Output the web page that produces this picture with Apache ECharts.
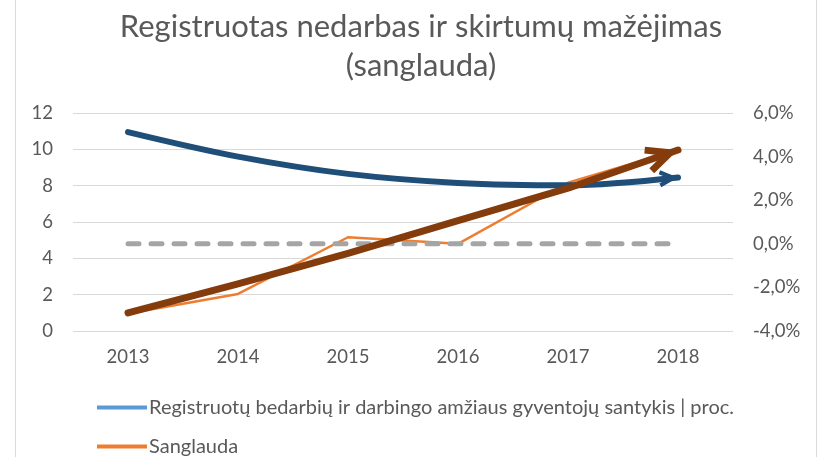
<!DOCTYPE html>
<html><head><meta charset="utf-8">
<script src="https://cdn.jsdelivr.net/npm/echarts@6/dist/echarts.min.js"></script>
<style>html,body{margin:0;padding:0;background:#fff}#c{width:820px;height:457px}</style>
</head><body><div id="c"></div>
<script>
// ---- data ----
const categories = ['2013', '2014', '2015', '2016', '2017', '2018'];
const registeredRatio = [10.9, 9.6, 8.65, 8.15, 8.0, 8.45];      // left axis
const registeredTrend = [10.95, 9.6, 8.65, 8.15, 8.02, 8.45];    // left axis, smooth trend
const convergence = [-3.2, -2.3, 0.3, 0.0, 2.8, 4.3];             // right axis, %
const convergenceTrend = [-3.17, -1.84, -0.44, 1.06, 2.55, 4.3];  // right axis, %
const zeroLine = [0, 0, 0, 0, 0, 0];                              // right axis, %
const leftTicks = { min: 0, max: 12, interval: 2 };
const rightTicks = { min: -4, max: 6, interval: 2 };
const seriesNames = ['Registruotų bedarbių ir darbingo amžiaus gyventojų santykis | proc.', 'Sanglauda'];
const titleText = 'Registruotas nedarbas ir skirtumų mažėjimas\n(sanglauda)';

const FONT = 'Lato';
const TXT = '#595959';
const ARROW = 'path://M131,0 L262,281 L203,308 L131,154 L59,308 L0,281 Z';
const NAVY_SIZE = [17, 19];
const BROWN_SIZE = [28, 33];

const chart = echarts.init(document.getElementById('c'), null, { renderer: 'canvas' });

function trendData(values, arrow) {
  return values.map((v, i) => i < values.length - 1 ? { value: v, symbol: 'none' } :
    Object.assign({ value: v, symbol: ARROW }, arrow || {}));
}

function buildOption(navyArrow, brownArrow) {
  return {
    animation: false,
    backgroundColor: '#fff',
    textStyle: { fontFamily: FONT },
    title: {
      text: titleText, left: 416, top: 2, textAlign: 'center',
      textStyle: { fontFamily: FONT, fontSize: 31, fontWeight: 'normal', color: TXT, lineHeight: 39 }
    },
    grid: { left: 73, right: 87, top: 113, bottom: 126, containLabel: false },
    legend: {
      orient: 'vertical', left: 97, top: 397.5, itemGap: 19, padding: 0,
      itemWidth: 50, itemHeight: 4, icon: 'rect',
      data: seriesNames,
      textStyle: { fontFamily: FONT, fontSize: 20, color: TXT, lineHeight: 20, padding: [0, 0, 0, -3] }
    },
    xAxis: {
      type: 'category', data: categories, boundaryGap: true,
      axisLine: { show: false }, axisTick: { show: false },
      axisLabel: { margin: 17, fontFamily: FONT, fontSize: 18.5, color: TXT }
    },
    yAxis: [
      {
        type: 'value', min: leftTicks.min, max: leftTicks.max, interval: leftTicks.interval,
        axisLine: { show: false }, axisTick: { show: false },
        splitLine: { lineStyle: { color: '#D9D9D9', width: 1 } },
        axisLabel: { margin: 20, fontFamily: FONT, fontSize: 18.5, color: TXT }
      },
      {
        type: 'value', min: rightTicks.min, max: rightTicks.max, interval: rightTicks.interval,
        axisLine: { show: false }, axisTick: { show: false }, splitLine: { show: false },
        axisLabel: {
          margin: 20, fontFamily: FONT, fontSize: 18.5, color: TXT,
          formatter: v => v.toFixed(1).replace('.', ',') + '%'
        }
      }
    ],
    series: [
      {
        name: seriesNames[0], type: 'line', yAxisIndex: 0, data: registeredRatio,
        symbol: 'none', lineStyle: { color: '#5B9BD5', width: 2.5, cap: 'round' },
        itemStyle: { color: '#5B9BD5' }
      },
      {
        name: seriesNames[1], type: 'line', yAxisIndex: 1, data: convergence,
        symbol: 'none', lineStyle: { color: '#ED7D31', width: 2.5, cap: 'round', join: 'round' },
        itemStyle: { color: '#ED7D31' }
      },
      {
        name: 'zero', type: 'line', yAxisIndex: 1, data: zeroLine, symbol: 'none',
        lineStyle: { color: '#A5A5A5', width: 5, type: [11, 12], cap: 'round' }
      },
      {
        name: 'trend1', type: 'line', yAxisIndex: 0, smooth: 0.35,
        data: trendData(registeredTrend, navyArrow),
        symbol: ARROW, symbolSize: NAVY_SIZE,
        itemStyle: { color: '#1F4E79', borderWidth: 0 },
        lineStyle: { color: '#1F4E79', width: 6, cap: 'round' }
      },
      {
        name: 'trend2', type: 'line', yAxisIndex: 1,
        data: trendData(convergenceTrend, brownArrow),
        symbol: ARROW, symbolSize: BROWN_SIZE,
        itemStyle: { color: '#843C0C', borderWidth: 0 },
        lineStyle: { color: '#843C0C', width: 7, cap: 'round', join: 'round' }
      }
    ],
    graphic: [
      { type: 'line', shape: { x1: 15.5, y1: 0, x2: 15.5, y2: 457 }, style: { stroke: '#D9D9D9', lineWidth: 1 }, silent: true },
      { type: 'line', shape: { x1: 816.5, y1: 0, x2: 816.5, y2: 457 }, style: { stroke: '#D9D9D9', lineWidth: 1 }, silent: true }
    ]
  };
}

chart.setOption(buildOption(null, null));

function arrowFor(values, yAxisIndex, size) {
  const n = values.length;
  const a = chart.convertToPixel({ xAxisIndex: 0, yAxisIndex: yAxisIndex }, [categories[n - 2], values[n - 2]]);
  const b = chart.convertToPixel({ xAxisIndex: 0, yAxisIndex: yAxisIndex }, [categories[n - 1], values[n - 1]]);
  const dx = b[0] - a[0], dy = b[1] - a[1];
  const len = Math.sqrt(dx * dx + dy * dy) || 1;
  const ux = dx / len, uy = dy / len;
  const rot = Math.atan2(-dy, dx) * 180 / Math.PI - 90;
  return { symbolSize: size, symbolRotate: rot, symbolOffset: [-ux * size[1] / 2, -uy * size[1] / 2] };
}

chart.setOption(buildOption(
  arrowFor(registeredTrend, 0, NAVY_SIZE),
  arrowFor(convergenceTrend, 1, BROWN_SIZE)
));
</script></body></html>
